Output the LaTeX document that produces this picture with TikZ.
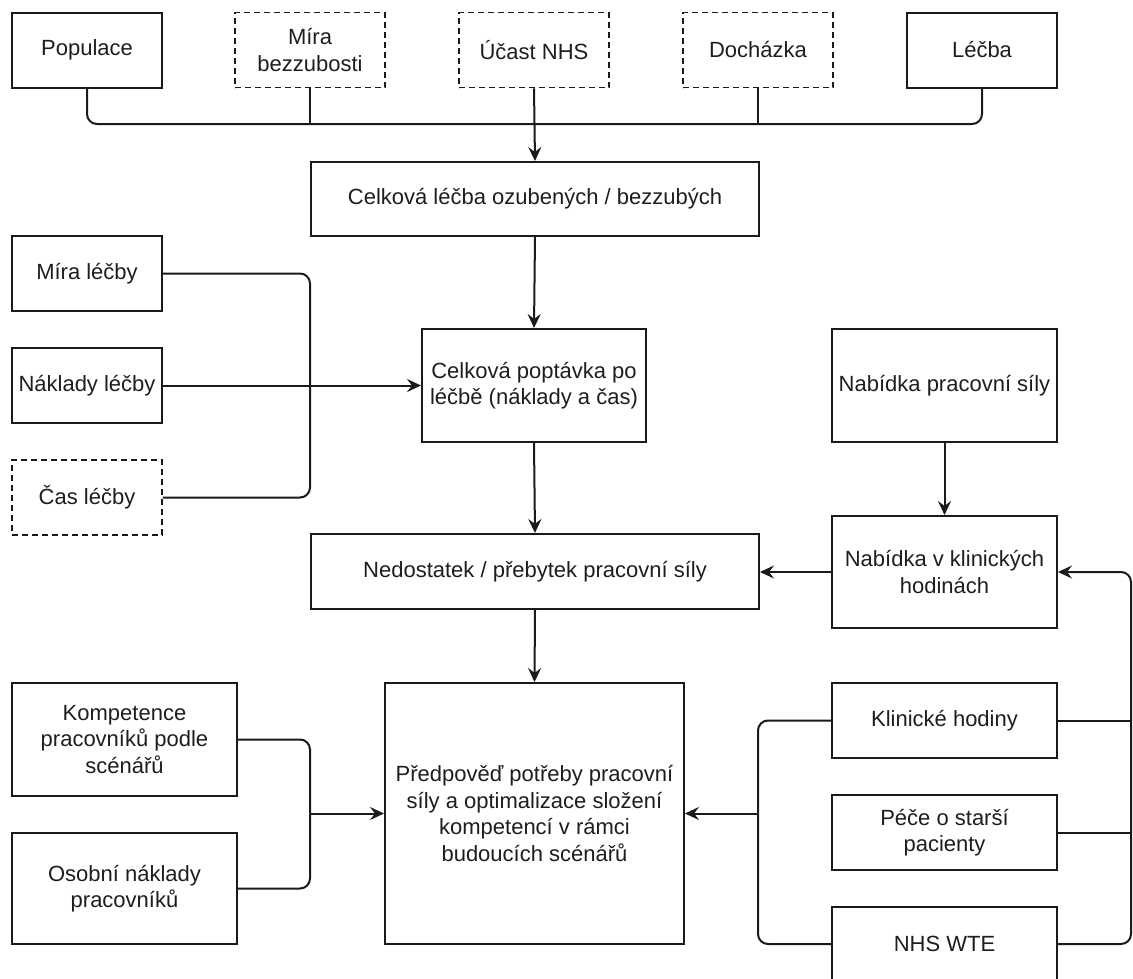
\documentclass[tikz,border=0pt]{standalone}
\usepackage{fontspec}
\setmainfont{Liberation Sans}
\usetikzlibrary{arrows.meta}
\definecolor{linec}{RGB}{26,26,26}
\definecolor{textc}{RGB}{30,30,30}
\begin{document}
\begin{tikzpicture}[x=1pt,y=-1pt,
  box/.style={draw=linec, line width=2pt, fill=white, align=center,
    inner sep=2pt, text=textc, font=\fontsize{22}{26.5}\selectfont},
  optbox/.style={box, line width=1.8pt, dash pattern=on 6pt off 4pt},
  conn/.style={draw=linec, line width=2pt},
  arr/.style={conn, -{Stealth[length=14pt,width=13pt,inset=5pt]}},
  rc/.style={rounded corners=10pt}]

% canvas
\fill[white] (0,0) rectangle (1133,978);
\useasboundingbox (0,0) rectangle (1133,978);

% top row of inputs
\node[box,    minimum width=150pt, minimum height=75pt] (pop)   at (87,50)  {Populace};
\node[optbox, minimum width=150pt, minimum height=75pt] (mbz)   at (310,50) {Míra\\bezzubosti};
\node[optbox, minimum width=150pt, minimum height=75pt] (ucast) at (534,50) {Účast NHS};
\node[optbox, minimum width=150pt, minimum height=75pt] (doch)  at (758,50) {Docházka};
\node[box,    minimum width=150pt, minimum height=75pt] (lecba) at (982,50) {Léčba};

% central chain
\node[box, minimum width=448pt, minimum height=74pt]  (celk) at (535,199)   {Celková léčba ozubených / bezzubých};
\node[box, minimum width=224pt, minimum height=113pt] (popt) at (534,385.5) {Celková poptávka po\\léčbě (náklady a čas)};
\node[box, minimum width=448pt, minimum height=75pt]  (ned)  at (535,571.5) {Nedostatek / přebytek pracovní síly};
\node[box, minimum width=299pt, minimum height=261pt] (pred) at (534.5,813.5)
  {Předpověď potřeby pracovní\\síly a optimalizace složení\\kompetencí v rámci\\budoucích scénářů};

% treatment inputs
\node[box,    minimum width=150pt, minimum height=75pt] (mira) at (87,273.5) {Míra léčby};
\node[box,    minimum width=150pt, minimum height=75pt] (nakl) at (87,385.5) {Náklady léčby};
\node[optbox, minimum width=150pt, minimum height=75pt] (cas)  at (87,497.5) {Čas léčby};

% workforce supply
\node[box, minimum width=225pt, minimum height=113pt] (nps) at (944.5,385.5) {Nabídka pracovní síly};
\node[box, minimum width=225pt, minimum height=112pt] (nkh) at (944.5,572)   {Nabídka v klinických\\hodinách};

% scenario inputs
\node[box, minimum width=225pt, minimum height=113pt] (komp) at (124.5,739.5) {Kompetence\\pracovníků podle\\scénářů};
\node[box, minimum width=225pt, minimum height=111pt] (osob) at (124.5,888.5) {Osobní náklady\\pracovníků};

\node[box, minimum width=225pt, minimum height=75pt] (kh)   at (944.5,720.5) {Klinické hodiny};
\node[box, minimum width=225pt, minimum height=75pt] (pece) at (944.5,832.5) {Péče o starší\\pacienty};
\node[box, minimum width=225pt, minimum height=74pt] (nhs)  at (944.5,944)   {NHS WTE};

% junction points
\coordinate (bus) at (534,124);
\coordinate (jl)  at (310,385.5);
\coordinate (jk)  at (310,813.5);
\coordinate (jr)  at (758,813.5);
\coordinate (rr)  at (1131,572);

% top bus
\draw[conn, rc] (pop.south) |- (bus);
\draw[conn, rc] (lecba.south) |- (bus);
\draw[conn] (mbz.south) -- (mbz.south |- bus);
\draw[conn] (doch.south) -- (doch.south |- bus);
\draw[arr] (ucast.south) -- (celk.north);

% demand chain
\draw[arr] (celk.south) -- (popt.north);
\draw[conn, rc] (mira.east) -| (jl);
\draw[conn, rc] (cas.east) -| (jl);
\draw[arr] (nakl.east) -- (popt.west);
\draw[arr] (popt.south) -- (ned.north);

% supply chain
\draw[arr] (nps.south) -- (nkh.north);
\draw[arr] (nkh.west) -- (nkh.west -| ned.east);
\draw[arr] (ned.south) -- (pred.north);

% scenario inputs into forecast
\draw[conn, rc] (komp.east) -| (jk);
\draw[conn, rc] (osob.east) -| (jk);
\draw[arr] (jk) -- (pred.west);

\draw[conn, rc] (kh.west) -| (jr);
\draw[conn, rc] (nhs.west) -| (jr);
\draw[arr] (jr) -- (pred.east);

% feedback into clinical hours supply
\draw[arr, rc] (nhs.east) -| (rr) -- (nkh.east);
\draw[conn] (kh.east) -- (kh.east -| rr);
\draw[conn] (pece.east) -- (pece.east -| rr);
\end{tikzpicture}
\end{document}
